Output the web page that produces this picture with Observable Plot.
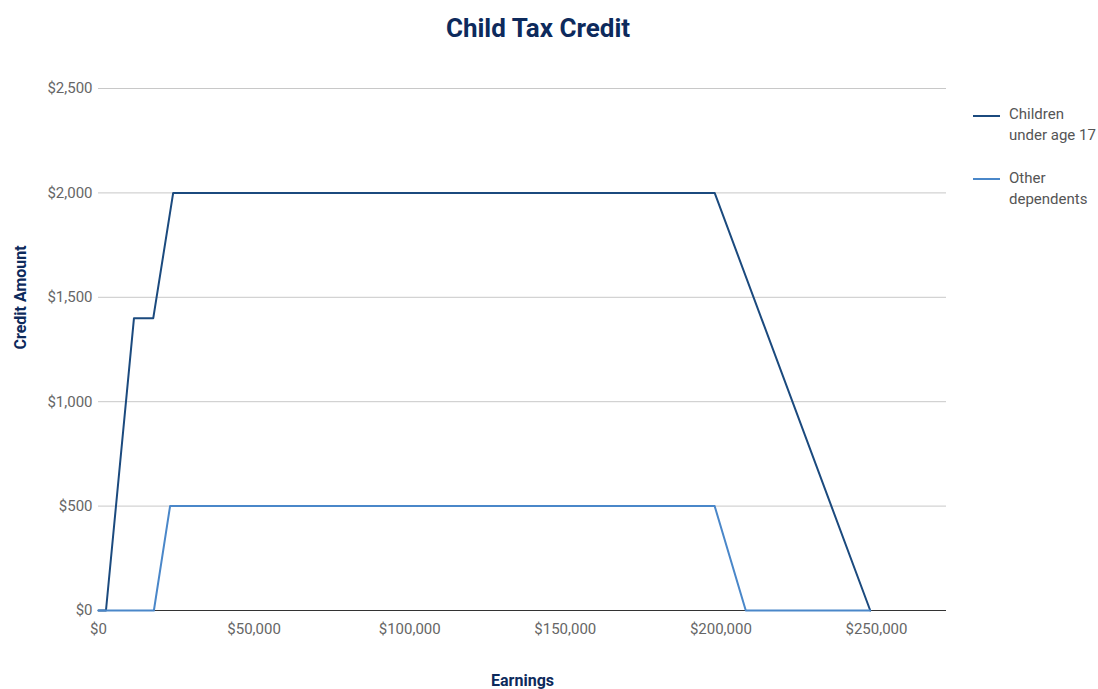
<!DOCTYPE html>
<html><head><meta charset="utf-8">
<script src="https://cdn.jsdelivr.net/npm/d3@7"></script>
<script src="https://cdn.jsdelivr.net/npm/@observablehq/plot@0.6"></script>
<style>
body{margin:0;background:#fff;}
#wrap{position:relative;width:1098px;height:689px;font-family:Roboto,"DejaVu Sans",sans-serif;}
#title{position:absolute;left:-11px;width:1098px;top:13px;text-align:center;font-size:26px;font-weight:bold;color:#0d2a5c;}
.leg{position:absolute;font-size:15px;color:#555;line-height:21px;}
.sw{position:absolute;height:2px;width:27px;}
#chart{position:absolute;left:0;top:0;}
</style></head>
<body><div id="wrap">
<div id="chart"></div>
<div id="title">Child Tax Credit</div>
<div class="sw" style="left:973px;top:115px;background:#1b4a7e"></div>
<div class="leg" style="left:1009px;top:104px">Children<br>under age 17</div>
<div class="sw" style="left:973px;top:178px;background:#4a87c9"></div>
<div class="leg" style="left:1009px;top:168px">Other<br>dependents</div>
</div>
<script>
const earnings = [0, 2400, 11400, 17600, 24000, 198000, 248000];
const childCredit = [0, 0, 1400, 1400, 2000, 2000, 0];
const otherEarnings = [0, 17800, 23000, 198000, 208000, 248000];
const otherCredit = [0, 0, 500, 500, 0, 0];
const yTicks = [0, 500, 1000, 1500, 2000, 2500];
const xTicks = [0, 50000, 100000, 150000, 200000, 250000];

const child = earnings.map((e, i) => ({x: e, y: childCredit[i]}));
const other = otherEarnings.map((e, i) => ({x: e, y: otherCredit[i]}));
const fmt = d3.format("$,");

const plot = Plot.plot({
  width: 1098, height: 689,
  marginTop: 88, marginBottom: 79, marginLeft: 98, marginRight: 152,
  style: {fontFamily: "Roboto, 'DejaVu Sans', sans-serif", fontSize: "15px", color: "#666", background: "transparent"},
  x: {domain: [0, 272500], ticks: xTicks, tickFormat: fmt, label: null},
  y: {domain: [0, 2500], ticks: yTicks, tickFormat: fmt, label: null},
  marks: [
    Plot.ruleY(yTicks.filter(d => d > 0), {stroke: "#c8c8c8", strokeWidth: 1}),
    Plot.axisY({ticks: yTicks, tickFormat: fmt, tickSize: 0, tickPadding: 6, label: null, fill: "#666"}),
    Plot.axisX({ticks: xTicks, tickFormat: fmt, tickSize: 0, tickPadding: 13, label: null, fill: "#666"}),
    Plot.ruleY([0], {stroke: "#333", strokeWidth: 1}),
    Plot.line(child, {x: "x", y: "y", stroke: "#1b4a7e", strokeWidth: 2}),
    Plot.line(other, {x: "x", y: "y", stroke: "#4a87c9", strokeWidth: 2}),
    Plot.text(["Credit Amount"], {frameAnchor: "left", dx: -78, rotate: -90, fill: "#0d2a5c", fontWeight: "bold", fontSize: 16}),
    Plot.text(["Earnings"], {frameAnchor: "bottom", dy: 75, fill: "#0d2a5c", fontWeight: "bold", fontSize: 16})
  ]
});
document.getElementById("chart").appendChild(plot);
</script>
</body></html>
